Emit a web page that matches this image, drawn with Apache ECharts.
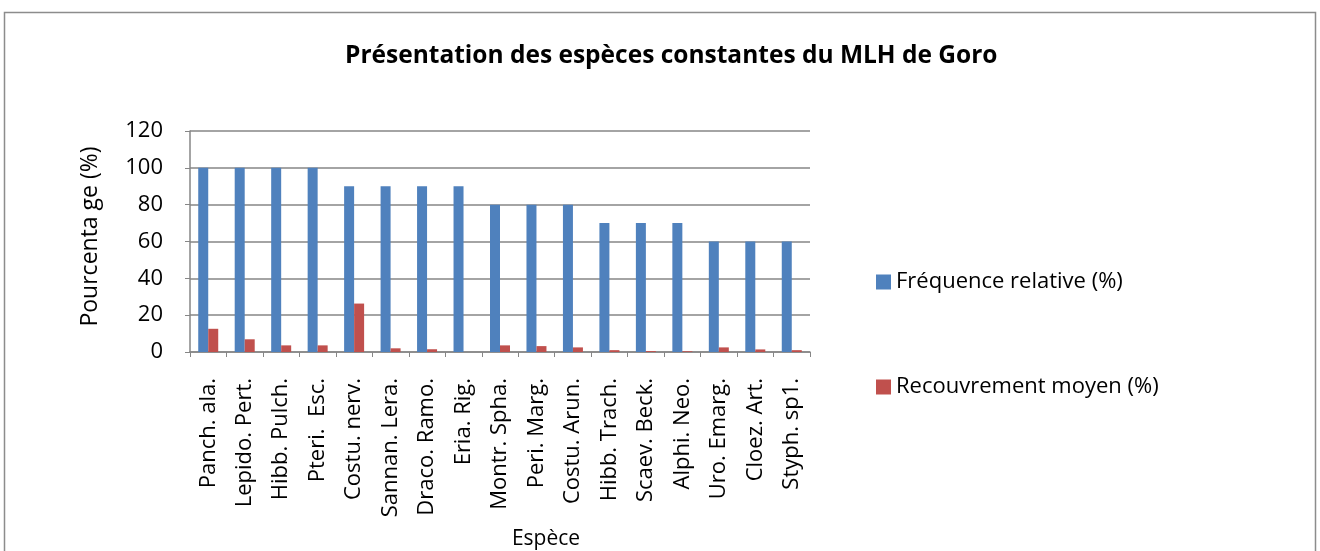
<!DOCTYPE html>
<html>
<head>
<meta charset="utf-8">
<script src="https://cdn.jsdelivr.net/npm/echarts@6/dist/echarts.min.js"></script>
<style>
  html, body { margin: 0; padding: 0; background: #fff; }
  #chart { width: 1320px; height: 551px; }
</style>
</head>
<body>
<div id="chart"></div>
<script>
// Species (abbreviated names) of the Goro MLH survey
const species = [
  'Panch. ala.', 'Lepido. Pert.', 'Hibb. Pulch.', 'Pteri.  Esc.', 'Costu. nerv.',
  'Sannan. Lera.', 'Draco. Ramo.', 'Eria. Rig.', 'Montr. Spha.', 'Peri. Marg.',
  'Costu. Arun.', 'Hibb. Trach.', 'Scaev. Beck.', 'Alphi. Neo.', 'Uro. Emarg.',
  'Cloez. Art.', 'Styph. sp1.'
];
// Relative frequency (%)
const frequence = [100, 100, 100, 100, 90, 90, 90, 90, 80, 80, 80, 70, 70, 70, 60, 60, 60];
// Mean cover (%)
const recouvrement = [12.6, 6.9, 3.6, 3.6, 26.3, 2.0, 1.5, 0, 3.6, 3.2, 2.5, 1.0, 0.5, 0.4, 2.5, 1.4, 1.0];
// Value axis ticks
const yTicks = [0, 20, 40, 60, 80, 100, 120];

const FONT = '"Open Sans", "Noto Sans", sans-serif';
const GRID = '#868686';

const chart = echarts.init(document.getElementById('chart'));
chart.setOption({
  animation: false,
  backgroundColor: '#ffffff',
  textStyle: { fontFamily: FONT, color: '#000' },
  graphic: [{
    type: 'rect',
    shape: { x: 4.5, y: 12.5, width: 1311, height: 560 },
    style: { fill: 'none', stroke: '#8c8c8c', lineWidth: 1.5 },
    silent: true
  }],
  title: {
    text: 'Présentation des espèces constantes du MLH de Goro',
    left: 340,
    top: 39,
    padding: 5,
    textStyle: { fontFamily: FONT, fontSize: 24.5, fontWeight: 'bold', color: '#000' }
  },
  legend: [{
    data: ['Fréquence relative (%)'],
    left: 871,
    top: 265,
    itemWidth: 15,
    itemHeight: 15,
    itemGap: 6,
    icon: 'rect',
    textStyle: { fontFamily: FONT, fontSize: 22, color: '#000', lineHeight: 24 }
  }, {
    data: ['Recouvrement moyen (%)'],
    left: 871,
    top: 370,
    itemWidth: 15,
    itemHeight: 15,
    icon: 'rect',
    textStyle: { fontFamily: FONT, fontSize: 22, color: '#000', lineHeight: 24 }
  }],
  grid: { left: 190, right: 510, top: 131, bottom: 198, containLabel: false },
  xAxis: {
    type: 'category',
    data: species,
    name: 'Espèce',
    nameLocation: 'middle',
    nameGap: 177,
    nameTextStyle: { fontFamily: FONT, fontSize: 21, color: '#000', padding: [0, 0, 0, 92] },
    axisLine: { lineStyle: { color: GRID, width: 1.5 } },
    axisTick: { show: true, alignWithLabel: false, length: 5, lineStyle: { color: GRID } },
    axisLabel: { rotate: 90, margin: 26, fontFamily: FONT, fontSize: 22, color: '#000', interval: 0 }
  },
  yAxis: {
    type: 'value',
    min: yTicks[0],
    max: yTicks[yTicks.length - 1],
    interval: yTicks[1] - yTicks[0],
    name: 'Pourcenta ge (%)',
    nameLocation: 'middle',
    nameGap: 88,
    nameRotate: 90,
    nameTextStyle: { fontFamily: FONT, fontSize: 23, color: '#000', padding: [0, 0, 0, 10] },
    axisLine: { show: true, lineStyle: { color: GRID, width: 1.5 } },
    axisTick: { show: true, length: 5, inside: false, lineStyle: { color: GRID } },
    axisLabel: { margin: 27, fontFamily: FONT, fontSize: 22, color: '#000' },
    splitLine: { show: true, lineStyle: { color: GRID, width: 1.5 } }
  },
  series: [{
    name: 'Fréquence relative (%)',
    type: 'bar',
    data: frequence,
    barWidth: 10,
    barGap: '0%',
    itemStyle: { color: '#4F81BD' }
  }, {
    name: 'Recouvrement moyen (%)',
    type: 'bar',
    data: recouvrement,
    barWidth: 10,
    barGap: '0%',
    itemStyle: { color: '#C0504D' }
  }]
});
</script>
</body>
</html>
